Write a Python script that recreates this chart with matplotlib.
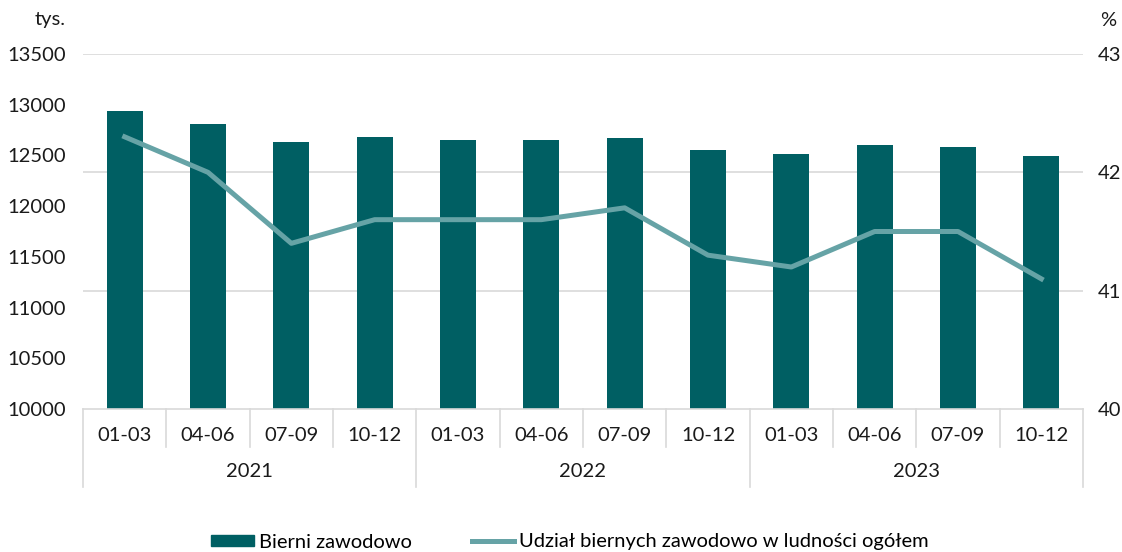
import matplotlib
matplotlib.use('Agg')
import matplotlib.pyplot as plt
from matplotlib.patches import Patch
from matplotlib.lines import Line2D

plt.rcParams['font.family'] = ['Lato', 'DejaVu Sans']

quarters = ['01-03', '04-06', '07-09', '10-12'] * 3
years = ['2021', '2022', '2023']
bierni = [12940, 12810, 12630, 12680, 12650, 12650, 12670, 12550, 12510, 12600, 12580, 12490]
udzial = [42.3, 42.0, 41.4, 41.6, 41.6, 41.6, 41.7, 41.3, 41.2, 41.5, 41.5, 41.1]

bar_color = '#005F63'
line_color = '#66A3A6'
grid_color = '#D9D9D9'
text_color = '#1a1a1a'
fs = 14.5

fig = plt.figure(figsize=(11.22, 5.52), dpi=100)
ax = fig.add_axes([83 / 1122, 1 - 409 / 552, 1000 / 1122, 355 / 552])
ax2 = ax.twinx()

x = list(range(len(bierni)))
left_lim = (10000, 13500)
right_lim = (40, 43)

# grid lines belong to the right axis, drawn under the bars
for t in [41, 42, 43]:
    yv = left_lim[0] + (t - right_lim[0]) / (right_lim[1] - right_lim[0]) * (left_lim[1] - left_lim[0])
    ax.axhline(yv, color=grid_color, lw=1.2, zorder=0)

ax.bar(x, bierni, width=0.43, color=bar_color, zorder=2)
ax2.plot(x, udzial, color=line_color, lw=3.6, solid_joinstyle='round', zorder=3)

ax.set_xlim(-0.5, len(x) - 0.5)
ax.set_ylim(*left_lim)
ax2.set_ylim(*right_lim)
ax.set_yticks(range(10000, 13501, 500))
ax2.set_yticks([40, 41, 42, 43])

for a in (ax, ax2):
    for s in a.spines.values():
        s.set_visible(False)
ax.spines['bottom'].set_visible(True)
ax.spines['bottom'].set_color(grid_color)
ax.spines['bottom'].set_linewidth(1.2)

ax.tick_params(axis='y', length=0, pad=12, labelsize=fs, colors=text_color)
ax2.tick_params(axis='y', length=0, pad=10.5, labelsize=fs, colors=text_color)
ax.set_xticks(x)
ax.set_xticklabels(quarters)
ax.tick_params(axis='x', length=0, pad=13, labelsize=fs, colors=text_color)

# multi-level category axis
trans = ax.get_xaxis_transform()
for i in range(len(x) + 1):
    xv = i - 0.5
    bottom = -0.22 if i % 4 == 0 else -0.107
    ax.plot([xv, xv], [0, bottom], transform=trans, color=grid_color, lw=1.2, clip_on=False)
for k, yr in enumerate(years):
    ax.text(4 * k + 1.5, -0.177, yr, transform=trans, ha='center', va='center', fontsize=fs, color=text_color)

fig.text(66 / 1122, 1 - 20 / 552, 'tys.', ha='right', va='center', fontsize=fs, color=text_color)
fig.text(1100 / 1122, 1 - 20 / 552, '%', ha='left', va='center', fontsize=fs, color=text_color)

handles = [Patch(color=bar_color), Line2D([], [], color=line_color, lw=3.6)]
labels = ['Bierni zawodowo', 'Udział biernych zawodowo w ludności ogółem']
fig.legend(handles, labels, loc='center', bbox_to_anchor=(570 / 1122, 1 - 542 / 552), ncol=2,
           frameon=False, fontsize=fs, handlelength=2.1, handleheight=0.45, handletextpad=0.25,
           columnspacing=3.0, borderaxespad=0, borderpad=0)

fig.savefig('out.png', dpi=100)
